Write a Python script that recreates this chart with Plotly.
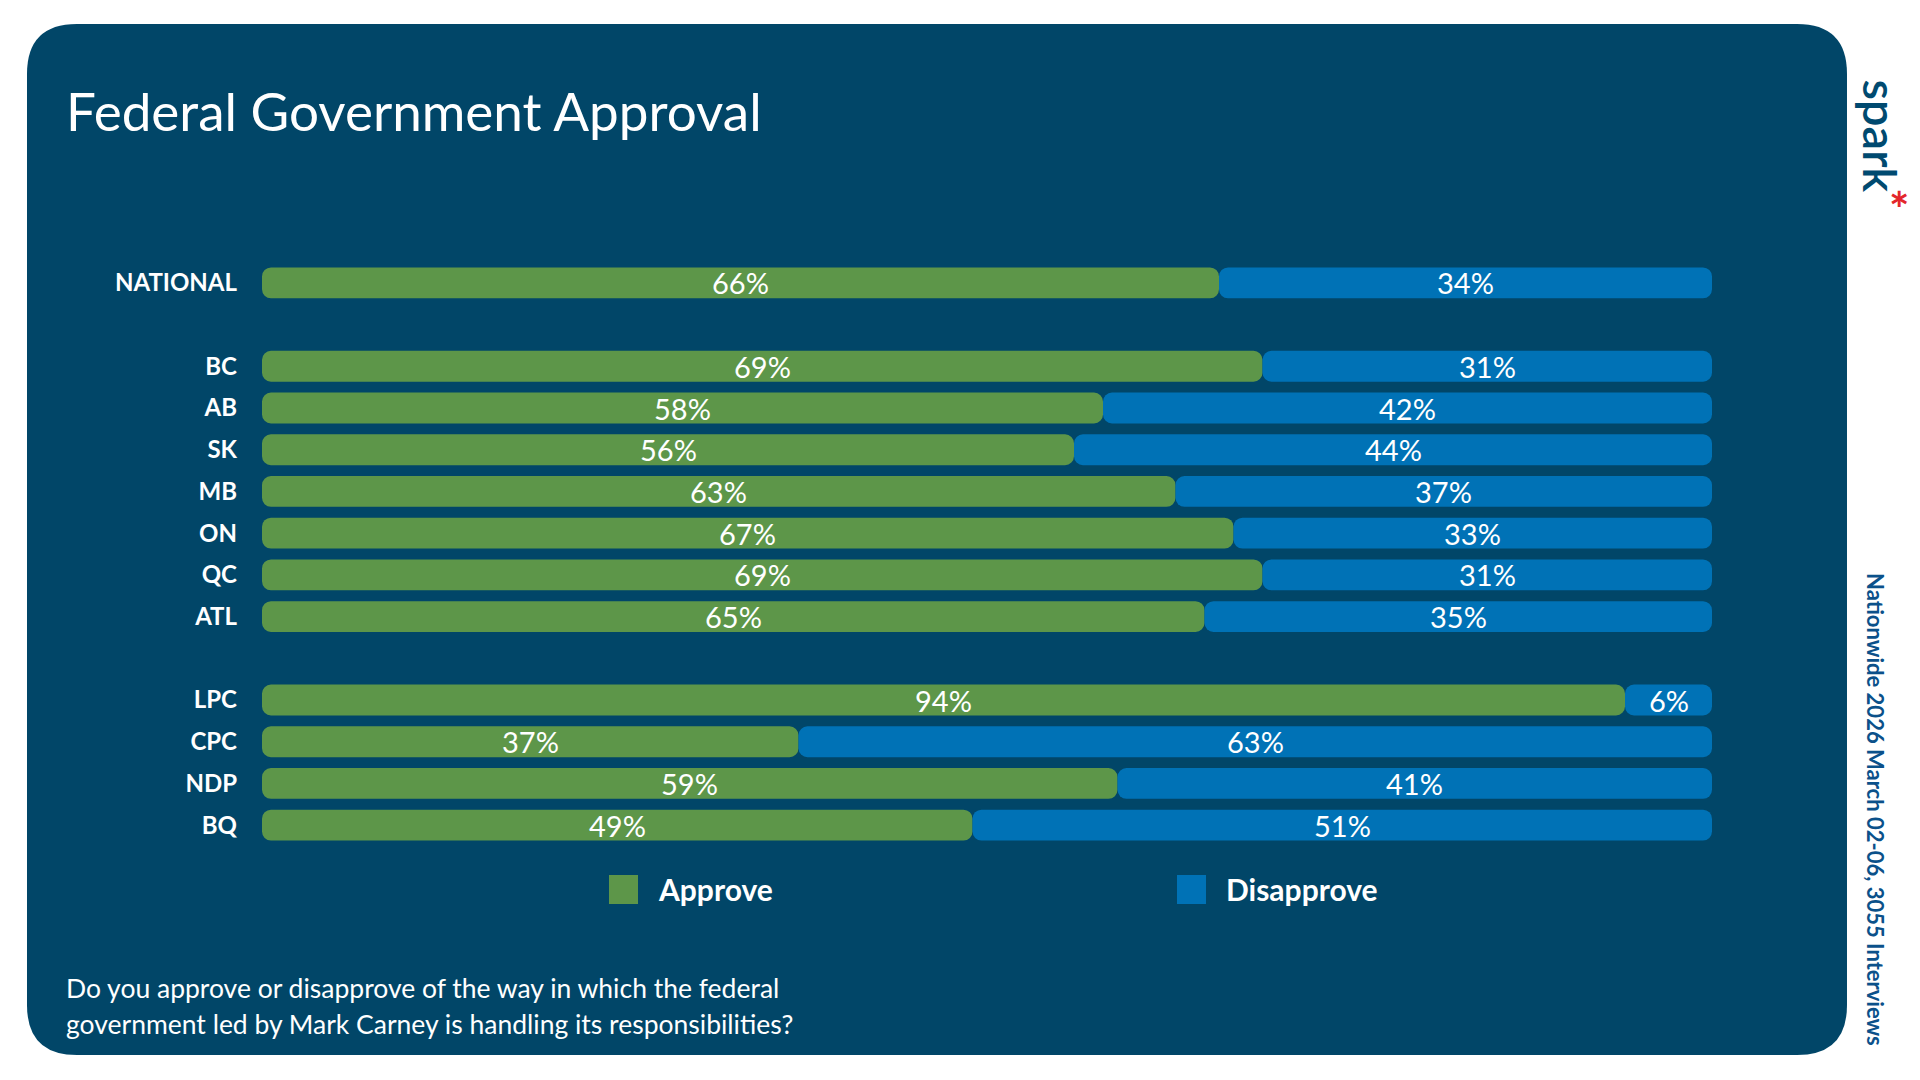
import plotly.graph_objects as go

# ---------------- data ----------------
categories = ["NATIONAL", "BC", "AB", "SK", "MB", "ON", "QC", "ATL", "LPC", "CPC", "NDP", "BQ"]
approve = [66, 69, 58, 56, 63, 67, 69, 65, 94, 37, 59, 49]
disapprove = [34, 31, 42, 44, 37, 33, 31, 35, 6, 63, 41, 51]
groups = [["NATIONAL"], ["BC", "AB", "SK", "MB", "ON", "QC", "ATL"], ["LPC", "CPC", "NDP", "BQ"]]
series_names = ["Approve", "Disapprove"]
title_text = "Federal Government Approval"
question_lines = ["Do you approve or disapprove of the way in which the federal",
                  "government led by Mark Carney is handling its responsibilities?"]
side_note = "Nationwide 2026 March 02-06, 3055 Interviews"

# ---------------- styles ----------------
W, H = 1920, 1080
OFF = 8  # page body margin offset
PANEL = "#014668"
GREEN = "#5d9649"
BLUE = "#0072b6"
LOGO = "#004a70"
NOTE = "#0b518a"
RED = "#e3262b"
FONT = "Lato"

# plot area in (screen) pixels
PL, PR, PT, PB = 262, 1712, 262, 846

def px_x(x):
    return (x - PL) / (PR - PL)

def px_y(y):
    return (PB - y) / (PB - PT)

# category order with spacer rows between groups
cat_order = []
for i, g in enumerate(groups):
    if i > 0:
        cat_order.append(" " * i)
    cat_order.extend(g)

fig = go.Figure()

# green: drawn from its right edge back to 0 so the rounded end sits at the left
fig.add_trace(go.Bar(
    y=categories, x=[-a for a in approve], base=approve, orientation="h",
    name=series_names[0], marker=dict(color=GREEN, line=dict(width=0)),
    width=0.74, showlegend=False, hoverinfo="skip",
))
fig.add_trace(go.Bar(
    y=categories, x=disapprove, base=approve, orientation="h",
    name=series_names[1], marker=dict(color=BLUE, line=dict(width=0)),
    width=0.74, showlegend=False, hoverinfo="skip",
))

annotations = []
# value labels centred in each segment
for c, a, d in zip(categories, approve, disapprove):
    annotations.append(dict(text=f"{a}%", x=a / 2, y=c, xref="x", yref="y",
                            xanchor="center", yanchor="middle", yshift=0, showarrow=False,
                            font=dict(family=FONT, size=29, color="white")))
    annotations.append(dict(text=f"{d}%", x=a + d / 2, y=c, xref="x", yref="y",
                            xanchor="center", yanchor="middle", yshift=0, showarrow=False,
                            font=dict(family=FONT, size=29, color="white")))

# rounded panel
def rounded_path(x0, y0, x1, y1, r):
    pts = [
        ("M", (x0 + r, y0)), ("L", (x1 - r, y0)), ("Q", (x1, y0), (x1, y0 + r)),
        ("L", (x1, y1 - r)), ("Q", (x1, y1), (x1 - r, y1)),
        ("L", (x0 + r, y1)), ("Q", (x0, y1), (x0, y1 - r)),
        ("L", (x0, y0 + r)), ("Q", (x0, y0), (x0 + r, y0)),
    ]
    s = ""
    for p in pts:
        cmd = p[0]
        coords = " ".join(f"{px_x(a):.5f},{px_y(b):.5f}" for a, b in p[1:])
        s += f"{cmd}{coords} "
    return s + "Z"

shapes = [dict(type="path", xref="paper", yref="paper",
               path=rounded_path(27, 24, 1847, 1055, 50),
               fillcolor=PANEL, line=dict(width=0), layer="below")]

# legend squares
leg_x = [609, 1177]
leg_cols = [GREEN, BLUE]
for lx, c in zip(leg_x, leg_cols):
    shapes.append(dict(type="rect", xref="paper", yref="paper",
                       x0=px_x(lx), x1=px_x(lx + 29), y0=px_y(904), y1=px_y(875),
                       fillcolor=c, line=dict(width=0)))

annotations += [
    dict(text=title_text, x=px_x(64), y=px_y(110), xref="paper", yref="paper",
         xanchor="left", yanchor="middle", showarrow=False,
         font=dict(family=FONT, size=53, color="white")),
    dict(text=question_lines[0], x=px_x(64), y=px_y(988), xref="paper", yref="paper",
         xanchor="left", yanchor="middle", showarrow=False,
         font=dict(family=FONT, size=26.5, color="white")),
    dict(text=question_lines[1], x=px_x(64), y=px_y(1024), xref="paper", yref="paper",
         xanchor="left", yanchor="middle", showarrow=False,
         font=dict(family=FONT, size=26.5, color="white")),
    dict(text="spark", x=px_x(1880), y=px_y(77), xref="paper", yref="paper",
         xanchor="center", yanchor="top", textangle=90, showarrow=False,
         font=dict(family=FONT, size=47, color=LOGO, weight=600)),
    dict(text="<b>*</b>", x=px_x(1899), y=px_y(209), xref="paper", yref="paper",
         xanchor="center", yanchor="middle", showarrow=False,
         font=dict(family=FONT, size=48, color=RED)),
    dict(text=f"<b>{side_note}</b>", x=px_x(1876), y=px_y(809), xref="paper", yref="paper",
         xanchor="center", yanchor="middle", textangle=90, showarrow=False,
         font=dict(family=FONT, size=22, color=NOTE)),
]
for lx, nm in zip(leg_x, series_names):
    annotations.append(dict(text=f"<b>{nm}</b>", x=px_x(lx + 47), y=px_y(889),
                            xref="paper", yref="paper", xanchor="left", yanchor="middle",
                            showarrow=False, font=dict(family=FONT, size=30, color="white")))

fig.update_layout(
    width=W, height=H,
    margin=dict(l=PL - OFF, r=W - PR + OFF, t=PT - OFF, b=H - PB + OFF, pad=0),
    paper_bgcolor="white", plot_bgcolor="rgba(0,0,0,0)",
    barmode="overlay", barcornerradius=9,
    xaxis=dict(range=[0, 100], visible=False, fixedrange=True),
    yaxis=dict(type="category", categoryorder="array", categoryarray=cat_order,
               range=[len(cat_order) - 0.5, -0.5], tickvals=categories,
               ticktext=[f"<b>{c}</b>" for c in categories],
               showgrid=False, zeroline=False, showline=False, ticks="",
               ticklabelstandoff=24,
               tickfont=dict(family=FONT, size=24, color="white"), fixedrange=True),
    shapes=shapes, annotations=annotations,
    font=dict(family=FONT),
)

fig.write_html("out.html")
